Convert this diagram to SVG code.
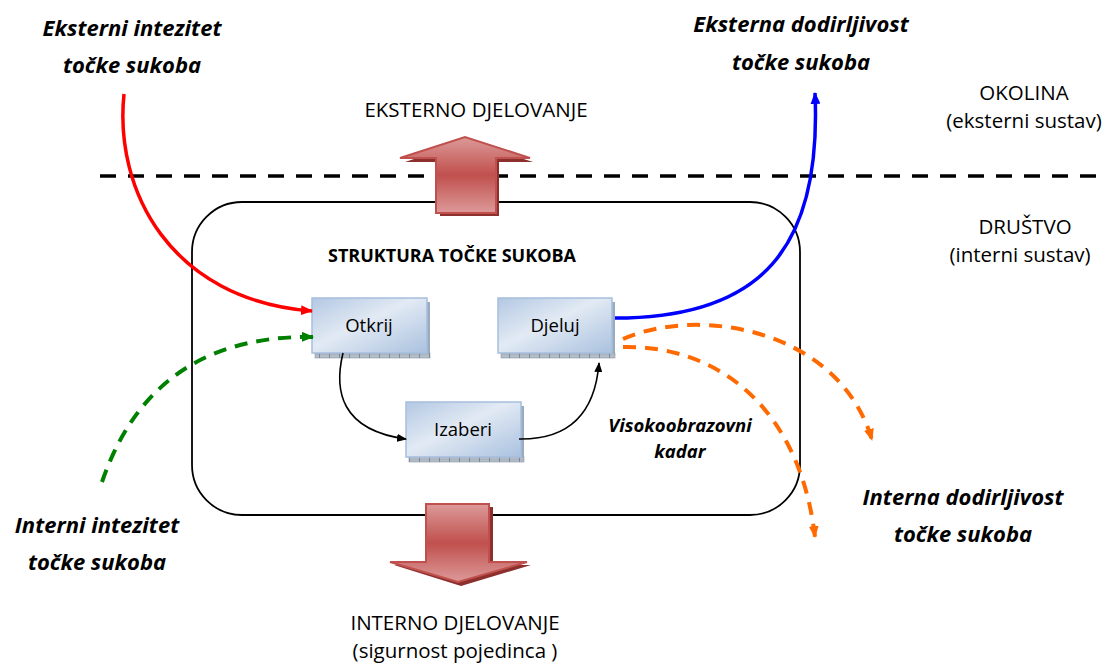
<svg xmlns="http://www.w3.org/2000/svg" width="1105" height="666" viewBox="0 0 1105 666">
<style>
.t{font-family:"Open Sans","Liberation Sans",sans-serif;fill:#000;text-anchor:middle}
.bi{font-weight:bold;font-style:italic;font-size:22px}
.n{font-size:20.5px}
.bx{font-size:18.5px}
.box{fill:url(#bg);stroke:#a7bedd;stroke-width:1.5}
.strip{fill:url(#stripPat);stroke:#8a98a8;stroke-width:0.6}
.side{fill:#9aabc0}
.blk{fill:none;stroke:#000;stroke-width:1.6}
.big{fill:url(#rg);stroke:#c0504d;stroke-width:2}
.bigsh{fill:#8c2f2d}
</style>
<defs>
<linearGradient id="bg" x1="0" y1="0" x2="1" y2="1">
<stop offset="0" stop-color="#b3c8e3"/>
<stop offset="0.45" stop-color="#e2eaf4"/>
<stop offset="1" stop-color="#a9c1df"/>
</linearGradient>
<linearGradient id="rg" x1="0" y1="0" x2="0" y2="1">
<stop offset="0" stop-color="#dc9a99"/>
<stop offset="0.5" stop-color="#c0504d"/>
<stop offset="1" stop-color="#dc9a99"/>
</linearGradient>
<pattern id="stripPat" width="10" height="5" patternUnits="userSpaceOnUse">
<rect width="10" height="5" fill="#a9b3bf"/>
<path d="M0,1 H10 M0,3 H10" stroke="#c9d0d8" stroke-width="0.7"/>
<path d="M9.5,0 V5" stroke="#6d7a88" stroke-width="0.8"/>
</pattern>
<marker id="ak" markerWidth="10" markerHeight="8" refX="9" refY="4" orient="auto" markerUnits="userSpaceOnUse"><path d="M0,0 L10,4 L0,8 Z" fill="#000"/></marker>
<marker id="ar" markerWidth="12" markerHeight="10" refX="11" refY="5" orient="auto" markerUnits="userSpaceOnUse"><path d="M0,0 L12,5 L0,10 Z" fill="#ff0000"/></marker>
<marker id="ag" markerWidth="12" markerHeight="10" refX="11" refY="5" orient="auto" markerUnits="userSpaceOnUse"><path d="M0,0 L12,5 L0,10 Z" fill="#008000"/></marker>
<marker id="ab" markerWidth="12" markerHeight="10" refX="11" refY="5" orient="auto" markerUnits="userSpaceOnUse"><path d="M0,0 L12,5 L0,10 Z" fill="#0000ff"/></marker>
<marker id="ao" markerWidth="12" markerHeight="10" refX="11" refY="5" orient="auto" markerUnits="userSpaceOnUse"><path d="M0,0 L12,5 L0,10 Z" fill="#ff6a00"/></marker>
</defs>

<g id="boundary">
<line x1="100" y1="176" x2="1100" y2="176" stroke="#000" stroke-width="3.5" stroke-dasharray="16 12"/>
</g>

<g id="society">
<rect x="192" y="202" width="608" height="313" rx="50" ry="50" fill="none" stroke="#000" stroke-width="1.8"/>
<text class="t" x="452" y="262" style="font-weight:bold;font-size:18px">STRUKTURA TOČKE SUKOBA</text>
</g>

<g id="ext-action">
<path class="bigsh" d="M440,216 V162 H405 L468,141 L533,162 H499 V216 Z"/>
<path class="big" d="M436,213 V158 H400 L465,137 L530,158 H496 V213 Z"/>
<text class="t n" x="476" y="117">EKSTERNO DJELOVANJE</text>
</g>

<g id="int-action">
<path class="bigsh" d="M430,507 V565 H394 L461,586 L531,565 H493 V507 Z"/>
<path class="big" d="M426,504 V562 H390 L458,582 L527,562 H489 V504 Z"/>
<text class="t n" x="455" y="630">INTERNO DJELOVANJE</text>
<text class="t n" x="455" y="658">(sigurnost pojedinca )</text>
</g>

<g id="otkrij">
<rect class="side" x="427" y="302" width="3" height="51"/>
<rect class="strip" x="315" y="353" width="115" height="5"/>
<rect class="box" x="312" y="298" width="115" height="55"/>
<text class="t bx" x="369" y="332">Otkrij</text>
</g>

<g id="djeluj">
<rect class="side" x="612" y="302" width="3" height="51"/>
<rect class="strip" x="501" y="353" width="114" height="5"/>
<rect class="box" x="498" y="298" width="114" height="55"/>
<text class="t bx" x="555" y="332">Djeluj</text>
</g>

<g id="izaberi">
<rect class="side" x="521" y="406" width="3" height="51"/>
<rect class="strip" x="409" y="457" width="115" height="5"/>
<rect class="box" x="406" y="402" width="115" height="55"/>
<text class="t bx" x="463" y="436">Izaberi</text>
</g>

<g id="labels">
<text class="t bi" x="132" y="36">Eksterni intezitet</text>
<text class="t bi" x="132" y="73">točke sukoba</text>
<text class="t bi" x="801" y="32">Eksterna dodirljivost</text>
<text class="t bi" x="801" y="70">točke sukoba</text>
<text class="t bi" x="97" y="533">Interni intezitet</text>
<text class="t bi" x="97" y="570">točke sukoba</text>
<text class="t bi" x="963" y="505">Interna dodirljivost</text>
<text class="t bi" x="963" y="542">točke sukoba</text>
<text class="t n" x="1024" y="100">OKOLINA</text>
<text class="t n" x="1024" y="128">(eksterni sustav)</text>
<text class="t n" x="1025" y="234">DRUŠTVO</text>
<text class="t n" x="1020" y="262">(interni sustav)</text>
<text class="t" x="680" y="432" style="font-weight:bold;font-style:italic;font-size:18.5px">Visokoobrazovni</text>
<text class="t" x="680" y="458" style="font-weight:bold;font-style:italic;font-size:18.5px">kadar</text>
</g>

<g id="connectors">
<path class="blk" d="M343,353 C334,390 340,430 406,439" marker-end="url(#ak)"/>
<path class="blk" d="M519,439 C580,440 596,400 599,363" marker-end="url(#ak)"/>
<path d="M124,94 C114,190 170,300 312,311" fill="none" stroke="#ff0000" stroke-width="3.5" marker-end="url(#ar)"/>
<path d="M102,482 C130,400 190,335 313,337" fill="none" stroke="#008000" stroke-width="4" stroke-dasharray="13 9" marker-end="url(#ag)"/>
<path d="M615,318 C760,318 822,250 815,93" fill="none" stroke="#0000ff" stroke-width="3.5" marker-end="url(#ab)"/>
<path d="M623,339 C700,305 840,330 872,440" fill="none" stroke="#ff6a00" stroke-width="4" stroke-dasharray="13 9" marker-end="url(#ao)"/>
<path d="M623,347 C720,345 800,410 815,537" fill="none" stroke="#ff6a00" stroke-width="4" stroke-dasharray="13 9" marker-end="url(#ao)"/>
</g>
</svg>
